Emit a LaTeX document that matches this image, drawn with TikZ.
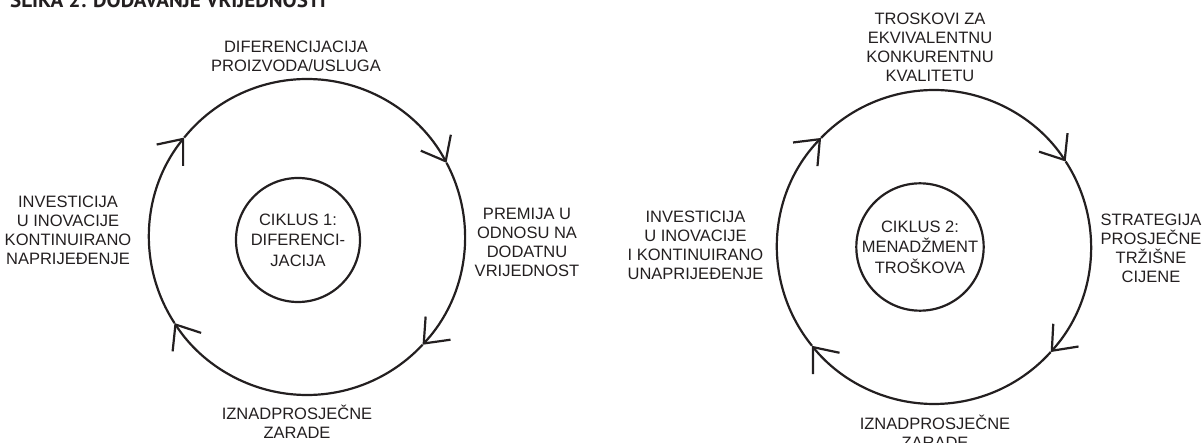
\documentclass[tikz,border=0pt]{standalone}
\usepackage{fontspec}
\setmainfont{Liberation Sans}
\newfontfamily\titlefont{PT Sans}
\usetikzlibrary{arrows.meta}
\definecolor{ink}{HTML}{231F20}
\tikzset{
  cyc/.style={draw=ink, line width=2.2pt, -{Straight Barb[length=21pt,width=34pt]}},
  hub/.style={draw=ink, line width=2.2pt, circle, minimum size=124pt, inner sep=0pt,
    align=center, text=ink, font=\fontsize{16.5}{20.5}\selectfont},
  lbl/.style={align=center, text=ink, inner sep=0pt, font=\fontsize{16.5}{19}\selectfont},
  ttl/.style={text=ink, inner sep=0pt, anchor=base west, font=\titlefont\bfseries\fontsize{21}{24}\selectfont},
}
\begin{document}
\begin{tikzpicture}[x=1pt,y=1pt]
\useasboundingbox (0,0) rectangle (1203,-443);
\node[ttl] (title) at (10,-8) {SLIKA 2: DODAVANJE VRIJEDNOSTI};

% cycle 1
\coordinate (o1) at (307,-237);
\draw[cyc] ([shift={(213:158pt)}]o1) arc[start angle=213, end angle=141, radius=158pt];
\draw[cyc] ([shift={(141:158pt)}]o1) arc[start angle=141, end angle=28, radius=158pt];
\draw[cyc] ([shift={(28:158pt)}]o1) arc[start angle=28, end angle=-43, radius=158pt];
\draw[cyc] ([shift={(-43:158pt)}]o1) arc[start angle=-43, end angle=-147, radius=158pt];
\node[hub] (h1) at (298,-240) {CIKLUS 1:\\DIFERENCI-\\JACIJA};
\node[lbl] (t1) at (296,-56.5) {DIFERENCIJACIJA\\PROIZVODA/USLUGA};
\node[lbl] (r1) at (527,-242.5) {PREMIJA U\\ODNOSU NA\\DODATNU\\VRIJEDNOST};
\node[lbl] (b1) at (297,-422) {IZNADPROSJEČNE\\ZARADE};
\node[lbl] (l1) at (68,-230) {INVESTICIJA\\U INOVACIJE\\KONTINUIRANO\\NAPRIJEĐENJE};

% cycle 2
\coordinate (o2) at (934,-247);
\draw[cyc] ([shift={(219:157pt)}]o2) arc[start angle=219, end angle=136, radius=157pt];
\draw[cyc] ([shift={(136:157pt)}]o2) arc[start angle=136, end angle=33, radius=157pt];
\draw[cyc] ([shift={(33:157pt)}]o2) arc[start angle=33, end angle=-42, radius=157pt];
\draw[cyc] ([shift={(-42:157pt)}]o2) arc[start angle=-42, end angle=-141, radius=157pt];
\node[hub] (h2) at (920,-247) {CIKLUS 2:\\MENADŽMENT\\TROŠKOVA};
\node[lbl] (t2) at (930,-47.5) {TROSKOVI ZA\\EKVIVALENTNU\\KONKURENTNU\\KVALITETU};
\node[lbl] (r2) at (1151,-248.5) {STRATEGIJA\\PROSJEČNE\\TRŽIŠNE\\CIJENE};
\node[lbl] (b2) at (935,-431.5) {IZNADPROSJEČNE\\ZARADE};
\node[lbl] (l2) at (695.5,-245.5) {INVESTICIJA\\U INOVACIJE\\I KONTINUIRANO\\UNAPRIJEĐENJE};
\end{tikzpicture}
\end{document}
